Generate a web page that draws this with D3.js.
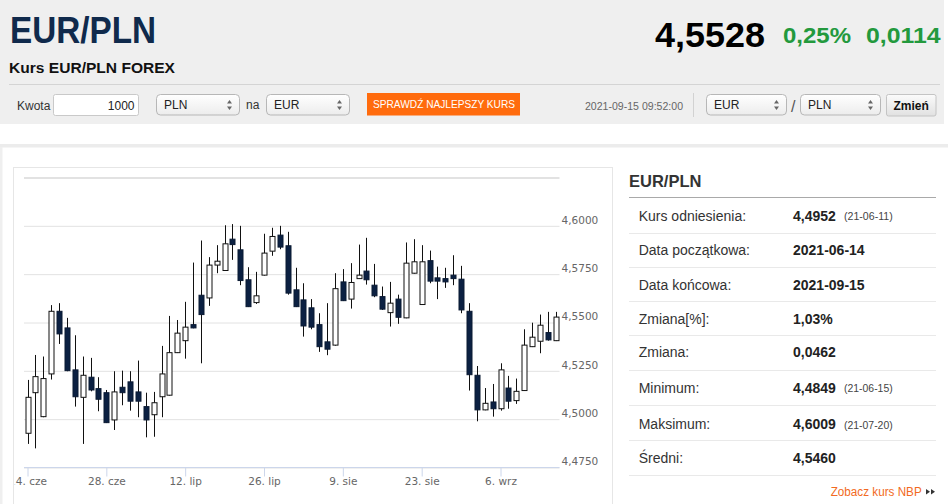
<!DOCTYPE html>
<html><head><meta charset="utf-8">
<script src="https://cdn.jsdelivr.net/npm/d3@7"></script>
<style>
html,body{margin:0;padding:0;background:#fff;overflow:hidden;}
svg{display:block;font-family:"Liberation Sans",Arial,sans-serif;}
</style></head>
<body>
<div id="chart"></div>
<script>
// ---------- DATA ----------
const dates = [
 "2021-06-14","2021-06-15","2021-06-16","2021-06-17","2021-06-18","2021-06-21","2021-06-22","2021-06-23","2021-06-24","2021-06-25",
 "2021-06-28","2021-06-29","2021-06-30","2021-07-01","2021-07-02","2021-07-05","2021-07-06","2021-07-07","2021-07-08","2021-07-09",
 "2021-07-12","2021-07-13","2021-07-14","2021-07-15","2021-07-16","2021-07-19","2021-07-20","2021-07-21","2021-07-22","2021-07-23",
 "2021-07-26","2021-07-27","2021-07-28","2021-07-29","2021-07-30","2021-08-02","2021-08-03","2021-08-04","2021-08-05","2021-08-06",
 "2021-08-09","2021-08-10","2021-08-11","2021-08-12","2021-08-13","2021-08-16","2021-08-17","2021-08-18","2021-08-19","2021-08-20",
 "2021-08-23","2021-08-24","2021-08-25","2021-08-26","2021-08-27","2021-08-30","2021-08-31","2021-09-01","2021-09-02","2021-09-03",
 "2021-09-06","2021-09-07","2021-09-08","2021-09-09","2021-09-10","2021-09-13","2021-09-14","2021-09-15"];
const openV = [4.4927,4.5137,4.5013,4.5234,4.5558,4.5472,4.5255,4.5113,4.5217,4.5158,
 4.5137,4.4996,4.5165,4.5193,4.5141,4.5065,4.5023,4.5116,4.5124,4.5344,
 4.5406,4.5489,4.5641,4.5627,4.5797,4.5769,4.5931,4.5876,4.5721,4.5603,
 4.5745,4.5869,4.5952,4.5897,4.5669,4.5617,4.5576,4.5489,4.5400,4.5383,
 4.5710,4.5621,4.5727,4.5766,4.5693,4.5634,4.5551,4.5621,4.5524,4.5755,
 4.5593,4.5820,4.5731,4.5727,4.5745,4.5724,4.5558,4.5227,4.5048,4.5089,
 4.5054,4.5161,4.5096,4.5148,4.5375,4.5403,4.5448,4.5406];
const highV = [4.5203,4.5332,4.5324,4.5590,4.5600,4.5524,4.5434,4.5324,4.5317,4.5217,
 4.5151,4.5248,4.5251,4.5248,4.5303,4.5137,4.5141,4.5379,4.5534,4.5513,
 4.5607,4.5810,4.5924,4.5838,4.5900,4.6003,4.6009,4.6000,4.5786,4.5762,
 4.5959,4.5990,4.6000,4.5969,4.5783,4.5703,4.5621,4.5548,4.5600,4.5755,
 4.5776,4.5807,4.5903,4.5938,4.5803,4.5686,4.5710,4.5644,4.5914,4.5931,
 4.5900,4.5872,4.5789,4.5783,4.5848,4.5793,4.5600,4.5275,4.5161,4.5182,
 4.5289,4.5224,4.5210,4.5465,4.5499,4.5541,4.5555,4.5555];
const lowV = [4.4872,4.4849,4.5010,4.5205,4.5389,4.5248,4.5065,4.4872,4.5144,4.5041,
 4.4980,4.4944,4.5072,4.5044,4.5010,4.4906,4.4909,4.5010,4.5122,4.5342,
 4.5313,4.5470,4.5289,4.5586,4.5755,4.5767,4.5824,4.5693,4.5580,4.5596,
 4.5743,4.5845,4.5879,4.5644,4.5580,4.5427,4.5465,4.5348,4.5331,4.5380,
 4.5611,4.5572,4.5725,4.5696,4.5631,4.5565,4.5479,4.5493,4.5522,4.5753,
 4.5591,4.5703,4.5621,4.5679,4.5693,4.5548,4.5148,4.4989,4.5046,4.5013,
 4.5044,4.5054,4.5079,4.5146,4.5373,4.5341,4.5406,4.5404];
const closeV = [4.5113,4.5220,4.5210,4.5558,4.5441,4.5251,4.5116,4.5227,4.5151,4.5103,
 4.4982,4.5141,4.5137,4.5093,4.5093,4.4996,4.5085,4.5234,4.5344,4.5445,
 4.5476,4.5472,4.5541,4.5797,4.5817,4.5907,4.5903,4.5717,4.5582,4.5638,
 4.5859,4.5945,4.5890,4.5652,4.5582,4.5482,4.5476,4.5375,4.5362,4.5675,
 4.5613,4.5707,4.5745,4.5721,4.5638,4.5569,4.5600,4.5527,4.5807,4.5814,
 4.5814,4.5714,4.5714,4.5710,4.5727,4.5565,4.5230,4.5048,4.5082,4.5054,
 4.5255,4.5093,4.5144,4.5383,4.5424,4.5486,4.5410,4.5528];

const xTickDates  = ["2021-06-14","2021-06-28","2021-07-12","2021-07-26","2021-08-09","2021-08-23","2021-09-06"];
const xTickLabels = ["14. cze","28. cze","12. lip","26. lip","9. sie","23. sie","6. wrz"];
const yTicks      = [4.475,4.5,4.525,4.55,4.575,4.6,4.625];
const yTickLabels = ["4,4750","4,5000","4,5250","4,5500","4,5750","4,6000",""];

const statLabels = ["Kurs odniesienia:","Data początkowa:","Data końcowa:","Zmiana[%]:","Zmiana:","Minimum:","Maksimum:","Średni:"];
const statValues = ["4,4952","2021-06-14","2021-09-15","1,03%","0,0462","4,4849","4,6009","4,5460"];
const statDates  = ["(21-06-11)","","","","","(21-06-15)","(21-07-20)",""];

// ---------- PAGE ----------
const W = 948, H = 504;
const svg = d3.select("#chart").append("svg").attr("width", W).attr("height", H);
const defs = svg.append("defs");
const sg = defs.append("linearGradient").attr("id","selGrad").attr("x1",0).attr("y1",0).attr("x2",0).attr("y2",1);
sg.append("stop").attr("offset","0%").attr("stop-color","#ffffff");
sg.append("stop").attr("offset","100%").attr("stop-color","#ececec");
const bg = defs.append("linearGradient").attr("id","btnGrad").attr("x1",0).attr("y1",0).attr("x2",0).attr("y2",1);
bg.append("stop").attr("offset","0%").attr("stop-color","#fbfbfb");
bg.append("stop").attr("offset","100%").attr("stop-color","#e1e1e1");
defs.append("clipPath").attr("id","boxClip").append("rect")
  .attr("x",14.8).attr("y",168).attr("width",597).attr("height",340);

// header
svg.append("rect").attr("x",0).attr("y",0).attr("width",944).attr("height",124).attr("fill","#efefef");
svg.append("text").attr("x",10).attr("y",43).attr("font-size",37).attr("font-weight",700)
  .attr("fill","#102a4c").attr("textLength",146).attr("lengthAdjust","spacingAndGlyphs").text("EUR/PLN");
svg.append("text").attr("x",9).attr("y",72.7).attr("font-size",15.5).attr("font-weight",700)
  .attr("fill","#111").attr("textLength",166).attr("lengthAdjust","spacingAndGlyphs").text("Kurs EUR/PLN FOREX");
svg.append("text").attr("x",655).attr("y",46.7).attr("font-size",35).attr("font-weight",700)
  .attr("fill","#000").attr("textLength",110).attr("lengthAdjust","spacingAndGlyphs").text("4,5528");
svg.append("text").attr("x",783).attr("y",42.5).attr("font-size",22).attr("font-weight",700)
  .attr("fill","#23993d").attr("textLength",68).attr("lengthAdjust","spacingAndGlyphs").text("0,25%");
svg.append("text").attr("x",866).attr("y",42.5).attr("font-size",22).attr("font-weight",700)
  .attr("fill","#23993d").attr("textLength",74.5).attr("lengthAdjust","spacingAndGlyphs").text("0,0114");
svg.append("line").attr("x1",9).attr("x2",940).attr("y1",84.5).attr("y2",84.5).attr("stroke","#d4d4d4");

// form row
svg.append("text").attr("x",17).attr("y",110).attr("font-size",12).attr("fill","#333").text("Kwota");
svg.append("rect").attr("x",53.5).attr("y",94.5).attr("width",85).attr("height",21).attr("rx",2)
  .attr("fill","#fff").attr("stroke","#c9c9c9");
svg.append("text").attr("x",134.5).attr("y",109.5).attr("font-size",12).attr("fill","#222")
  .attr("text-anchor","end").text("1000");
function selectBox(x, w, label){
  svg.append("rect").attr("x",x+0.5).attr("y",94.5).attr("width",w).attr("height",20.5).attr("rx",4)
    .attr("fill","url(#selGrad)").attr("stroke","#b7b7b7");
  svg.append("text").attr("x",x+8).attr("y",108.5).attr("font-size",12).attr("fill","#222").text(label);
  const cx = x + w - 9.5;
  svg.append("path").attr("d",`M${cx-2.5},103.5L${cx+2.5},103.5L${cx},100Z`).attr("fill","#666");
  svg.append("path").attr("d",`M${cx-2.5},106.5L${cx+2.5},106.5L${cx},110Z`).attr("fill","#666");
}
selectBox(156, 83, "PLN");
svg.append("text").attr("x",246).attr("y",108.5).attr("font-size",12).attr("fill","#333").text("na");
selectBox(266, 83, "EUR");
svg.append("rect").attr("x",367).attr("y",93).attr("width",153).attr("height",22.5).attr("fill","#ff6b0d");
svg.append("text").attr("x",373).attr("y",108).attr("font-size",10.5).attr("fill","#fff")
  .attr("textLength",142).attr("lengthAdjust","spacingAndGlyphs").text("SPRAWDŹ NAJLEPSZY KURS");
svg.append("text").attr("x",585).attr("y",110.3).attr("font-size",10.5).attr("fill","#666")
  .attr("textLength",98).attr("lengthAdjust","spacingAndGlyphs").text("2021-09-15 09:52:00");
svg.append("line").attr("x1",693.5).attr("x2",693.5).attr("y1",93).attr("y2",117).attr("stroke","#d2d2d2");
selectBox(706, 80, "EUR");
svg.append("text").attr("x",791).attr("y",111.5).attr("font-size",16).attr("fill","#555").text("/");
selectBox(800, 80, "PLN");
svg.append("rect").attr("x",886.5).attr("y",94.5).attr("width",49.5).attr("height",21.5).attr("rx",2)
  .attr("fill","url(#btnGrad)").attr("stroke","#c4c4c4");
svg.append("text").attr("x",911.2).attr("y",110).attr("font-size",12).attr("font-weight",700)
  .attr("fill","#111").attr("text-anchor","middle").text("Zmień");

// content frame
svg.append("rect").attr("x",0).attr("y",144).attr("width",W).attr("height",3.5).attr("fill","#ececec");
svg.append("rect").attr("x",0).attr("y",147).attr("width",2.5).attr("height",H-147).attr("fill","#efefef");
svg.append("rect").attr("x",13.5).attr("y",167.5).attr("width",599).attr("height",360)
  .attr("fill","#fff").attr("stroke","#e6e6e6");

// ---------- CHART ----------
const x = d3.scalePoint().domain(dates).range([27.5, 555.7]);
const y = d3.scaleLinear().domain([4.475, 4.625]).range([467.5, 177.5]);
const plotL = 24, plotR = 559.5;

const chart = svg.append("g").attr("clip-path","url(#boxClip)");

// gridlines
const grid = chart.append("g").attr("transform",`translate(${plotR},0)`)
  .call(d3.axisLeft(y).tickValues(yTicks).tickSize(plotR - plotL).tickFormat(""));
grid.select(".domain").remove();
grid.selectAll(".tick line").attr("stroke", (d)=> d===4.625 ? "#d9d9d9" : "#e2e2e2")
  .attr("stroke-width",(d)=> d===4.625 ? 1.5 : 1);

// y labels
const yAx = chart.append("g").attr("transform",`translate(${plotR},0)`)
  .call(d3.axisRight(y).tickValues(yTicks).tickSize(0).tickPadding(2)
        .tickFormat((d,i)=> yTickLabels[i]));
yAx.select(".domain").remove();
yAx.selectAll("text").attr("dy",-2.7).attr("fill","#666")
  .attr("font-family","'DejaVu Sans',sans-serif").attr("font-size",10.5);

// x axis
const xAx = chart.append("g").attr("transform","translate(0,467.5)")
  .call(d3.axisBottom(x).tickValues(xTickDates).tickSize(9).tickPadding(1.5)
        .tickFormat((d,i)=> xTickLabels[i]));
xAx.select(".domain").remove();
xAx.selectAll(".tick line").attr("stroke","#ccd6eb");
xAx.selectAll("text").attr("fill","#666")
  .attr("font-family","'DejaVu Sans',sans-serif").attr("font-size",10.5);
chart.append("line").attr("x1",plotL).attr("x2",plotR).attr("y1",467.5).attr("y2",467.5).attr("stroke","#ccd6eb");

// candles
const candles = dates.map((d,i)=>({d, o:openV[i], h:highV[i], l:lowV[i], c:closeV[i]}));
const cg = chart.append("g");
const cd = cg.selectAll("g.c").data(candles).join("g").attr("class","c");
cd.append("line")
  .attr("x1", d=> Math.round(x(d.d))+0.5).attr("x2", d=> Math.round(x(d.d))+0.5)
  .attr("y1", d=> y(d.h)).attr("y2", d=> y(d.l))
  .attr("stroke","#111").attr("stroke-width",1);
cd.append("rect")
  .attr("x", d=> Math.round(x(d.d)) - 2)
  .attr("y", d=> y(Math.max(d.o,d.c)))
  .attr("width", 5)
  .attr("height", d=> Math.max(1.5, Math.abs(y(d.o)-y(d.c))))
  .attr("fill", d=> d.c >= d.o ? "#ffffff" : "#0b2042")
  .attr("stroke", d=> d.c >= d.o ? "#111" : "#0b1a33")
  .attr("stroke-width",1);

// ---------- RIGHT PANEL ----------
svg.append("text").attr("x",629).attr("y",186.7).attr("font-size",16.5).attr("font-weight",700)
  .attr("fill","#333").text("EUR/PLN");
svg.append("line").attr("x1",629).attr("x2",936).attr("y1",197.5).attr("y2",197.5).attr("stroke","#a9a9a9");
const rowCenters = [215.7,250,285,319,352.3,387.7,424,458.3];
const seps = [233.5,267.5,301.5,335.5,370.5,405.5,440.5,475.5];
seps.forEach(s=> svg.append("line").attr("x1",629).attr("x2",936).attr("y1",s).attr("y2",s)
  .attr("stroke","#e9e9e9"));
statLabels.forEach((t,i)=>{
  svg.append("text").attr("x",638.7).attr("y",rowCenters[i]+5).attr("font-size",14).attr("fill","#333").text(t);
  svg.append("text").attr("x",793).attr("y",rowCenters[i]+5).attr("font-size",14).attr("font-weight",700)
    .attr("fill","#222").text(statValues[i]);
  if (statDates[i]) svg.append("text").attr("x",844).attr("y",rowCenters[i]+4.5).attr("font-size",10.5)
    .attr("fill","#444").attr("textLength",48.7).attr("lengthAdjust","spacingAndGlyphs").text(statDates[i]);
});
svg.append("text").attr("x",830.7).attr("y",496).attr("font-size",12).attr("fill","#f26a22")
  .attr("textLength",91).attr("lengthAdjust","spacingAndGlyphs").text("Zobacz kurs NBP");
[926, 931].forEach(ax=> svg.append("path").attr("d",`M${ax},489L${ax+4},491.8L${ax},494.6Z`).attr("fill","#333"));
</script>
</body></html>
